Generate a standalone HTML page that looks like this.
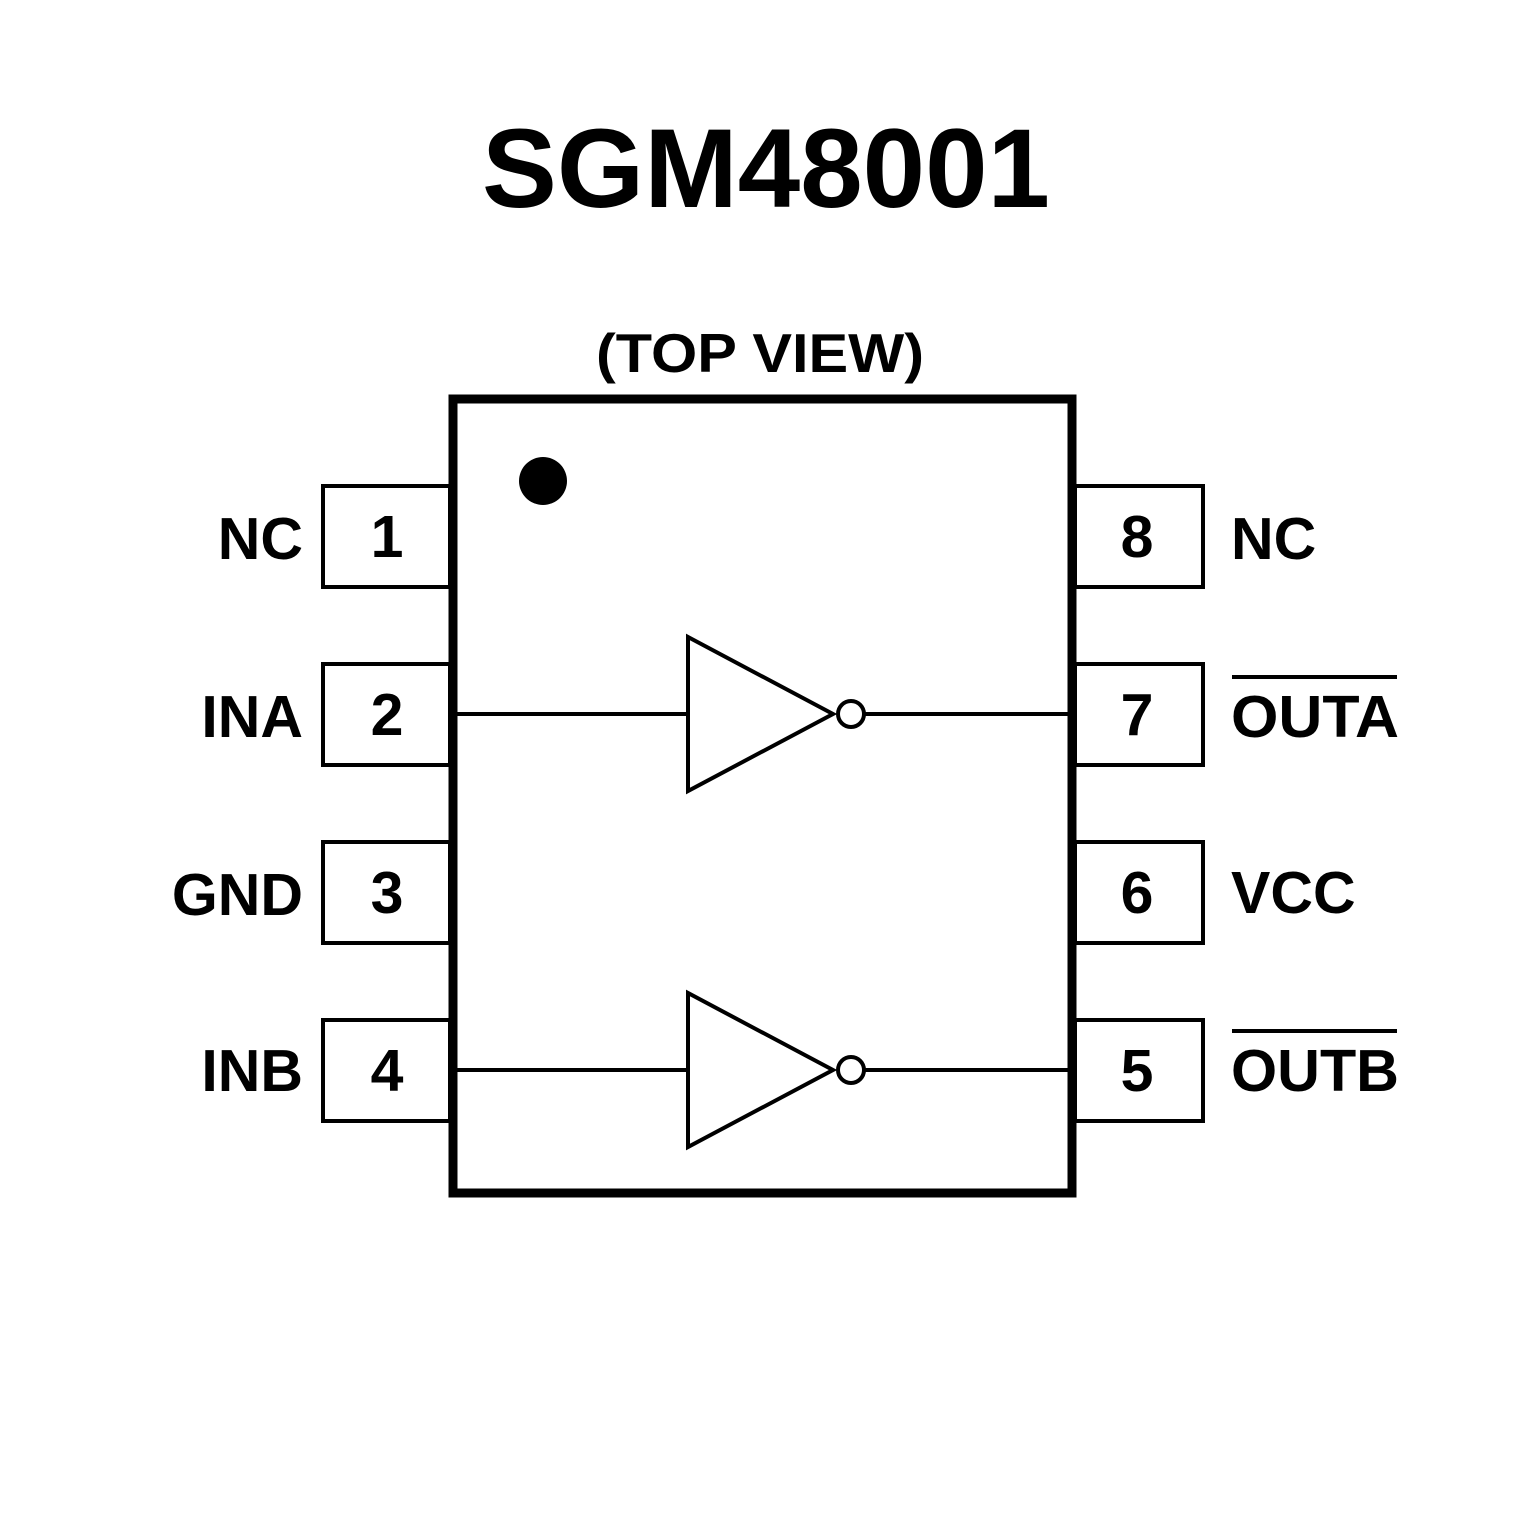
<!DOCTYPE html>
<html><head><style>html,body{margin:0;padding:0;background:#fff}</style></head><body>
<svg width="1535" height="1535" xmlns="http://www.w3.org/2000/svg" font-family="Liberation Sans, sans-serif" font-weight="bold">
<rect width="1535" height="1535" fill="#fff"/>
<text x="482" y="207" font-size="112" textLength="568" lengthAdjust="spacingAndGlyphs">SGM48001</text>
<text x="596" y="372" font-size="55" textLength="328" lengthAdjust="spacingAndGlyphs">(TOP VIEW)</text>
<g fill="none" stroke="#000">
<rect x="323" y="486" width="127" height="101" stroke-width="4"/>
<rect x="323" y="664" width="127" height="101" stroke-width="4"/>
<rect x="323" y="842" width="127" height="101" stroke-width="4"/>
<rect x="323" y="1020" width="127" height="101" stroke-width="4"/>
<rect x="1075" y="486" width="128" height="101" stroke-width="4"/>
<rect x="1075" y="664" width="128" height="101" stroke-width="4"/>
<rect x="1075" y="842" width="128" height="101" stroke-width="4"/>
<rect x="1075" y="1020" width="128" height="101" stroke-width="4"/>
<rect x="453" y="399" width="619" height="794" stroke-width="9" fill="#fff"/>
<path d="M456 714H688M864 714H1068M456 1070H688M864 1070H1068" stroke-width="4"/>
<path d="M688 637L688 791L833 714Z" stroke-width="4"/>
<path d="M688 993L688 1147L833 1070Z" stroke-width="4"/>
<circle cx="851" cy="714" r="13" stroke-width="4"/>
<circle cx="851" cy="1070" r="13" stroke-width="4"/>
<path d="M1232 677H1397M1232 1031H1397" stroke-width="4"/>
</g>
<circle cx="543" cy="481" r="24" fill="#000"/>
<g font-size="59">
<text x="387" y="557" text-anchor="middle">1</text>
<text x="387" y="735" text-anchor="middle">2</text>
<text x="387" y="913" text-anchor="middle">3</text>
<text x="387" y="1091" text-anchor="middle">4</text>
<text x="1137" y="557" text-anchor="middle">8</text>
<text x="1137" y="735" text-anchor="middle">7</text>
<text x="1137" y="913" text-anchor="middle">6</text>
<text x="1137" y="1091" text-anchor="middle">5</text>
<text x="303" y="559" text-anchor="end">NC</text>
<text x="303" y="737" text-anchor="end">INA</text>
<text x="303" y="915" text-anchor="end">GND</text>
<text x="303" y="1091" text-anchor="end">INB</text>
<text x="1231" y="559">NC</text>
<text x="1231" y="737" textLength="168" lengthAdjust="spacingAndGlyphs">OUTA</text>
<text x="1231" y="913">VCC</text>
<text x="1231" y="1091" textLength="168" lengthAdjust="spacingAndGlyphs">OUTB</text>
</g>
</svg>
</body></html>
